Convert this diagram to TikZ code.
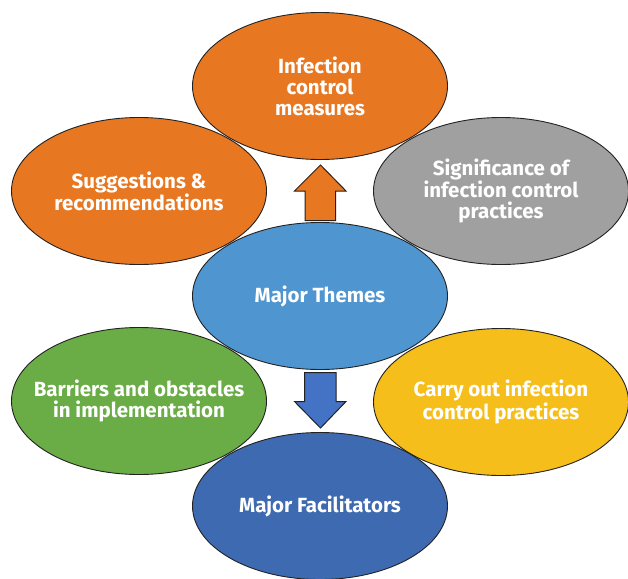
\documentclass[tikz,border=0pt]{standalone}
\usepackage{fontspec}
\setmainfont{Fira Sans}
\usetikzlibrary{shapes.geometric}
\definecolor{corange}{HTML}{E87722}
\definecolor{cgray}{HTML}{A0A0A0}
\definecolor{cblue}{HTML}{4F95D0}
\definecolor{cgreen}{HTML}{6AAC46}
\definecolor{cyellow}{HTML}{F6BE1A}
\definecolor{cdblue}{HTML}{3D6AB0}
\definecolor{carrow}{HTML}{4472C4}
\definecolor{cline}{HTML}{222222}
\tikzset{
  theme/.style={ellipse, draw=cline, line width=0.9pt, inner sep=-30pt, outer sep=0pt,
    minimum width=255pt, minimum height=147pt, text=white, align=center,
    font=\fontsize{20.5}{21}\selectfont\bfseries},
  blockarrow/.style={draw=cline, line width=1pt, line join=miter}
}
\begin{document}
\begin{tikzpicture}[x=1pt,y=-1pt]
\useasboundingbox (0,0) rectangle (628,578);
\node[theme, fill=corange] (sugg) at (139,191) {Suggestions \&\\recommendations};
\node[theme, fill=cgray] (sig) at (501,191) {Significance of\\infection control\\practices};
\node[theme, fill=corange] (icm) at (320,86) {Infection\\control\\measures};
\node[theme, fill=cgreen] (barr) at (139,401) {Barriers and obstacles\\in implementation};
\node[theme, fill=cyellow] (carry) at (501,402) {Carry out infection\\control practices};
\node[theme, fill=cblue] (major) at (320,296) {Major Themes};
\node[theme, fill=cdblue] (facil) at (320,506) {Major Facilitators};
\draw[blockarrow, fill=corange] (305,220.5) -- (305,191) -- (294.5,191) -- (320.5,165) -- (346,191) -- (335.5,191) -- (335.5,220.5) -- cycle;
\draw[blockarrow, fill=carrow] (304.5,372.5) -- (304.5,401.5) -- (294.5,401.5) -- (320.5,428) -- (346,401.5) -- (336,401.5) -- (336,372.5) -- cycle;
\end{tikzpicture}
\end{document}
